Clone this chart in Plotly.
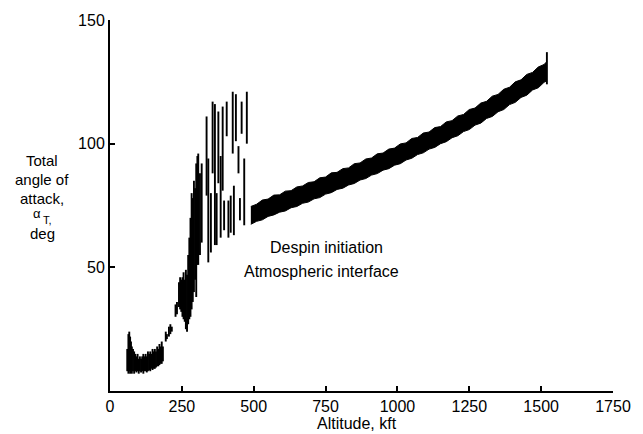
import plotly.graph_objects as go

# ---- data ----
# early oscillating region: vertical extent of the trace at each altitude
early_alt = [60, 64, 67, 70, 73, 76, 80, 84, 88, 92, 96, 100, 104, 108, 112, 116, 120, 124, 128,
             132, 136, 140, 144, 148, 152, 156, 160, 164, 168, 172, 176, 180, 184,
             194, 198, 205, 210, 215, 228, 233,
             240, 244, 248, 252, 256, 260, 264, 268, 272, 276, 280, 284, 288, 292, 296, 300, 304,
             307, 313, 319, 336, 342, 351, 357, 365, 371, 377, 385, 392, 397, 406, 412, 420,
             427, 431, 438, 447, 452, 458, 467, 476, 1520]
early_lo = [8, 7, 8, 7, 8, 7, 8, 7, 8, 7.5, 8, 7, 8, 7.5, 8, 7, 8, 8, 7.5,
            8, 8.5, 8, 9, 8.5, 9, 9, 9.5, 10, 10, 10.5, 11, 11, 12,
            20, 21, 22, 23, 24, 30, 31,
            34, 33, 32, 30, 29, 28, 25, 24, 27, 29, 30, 33, 36, 40, 45, 38, 51,
            51, 55, 60, 79, 52, 56, 88, 59, 59, 84, 62, 81, 65, 103, 62, 64,
            96, 63, 101, 88, 69, 104, 67, 100, 124]
early_hi = [17, 23, 24, 22, 20, 18, 17, 16, 15, 14, 15, 13, 14, 13, 14, 15, 14, 15, 14,
            16, 15, 16, 15, 17, 16, 17, 16, 18, 17, 19, 18, 20, 18,
            24, 23, 26, 27, 26, 35, 36,
            44, 46, 45, 46, 48, 45, 49, 47, 55, 62, 70, 80, 78, 85, 82, 92, 95,
            96, 88, 92, 111, 94, 80, 117, 116, 80, 113, 95, 115, 77, 117, 77, 79,
            121, 83, 120, 99, 78, 117, 94, 121, 137]

# smooth band after despin initiation
band_alt = [490, 510, 530, 550, 570, 590, 610, 630, 650, 670, 690, 710, 730, 750, 770, 790,
            810, 830, 850, 870, 890, 910, 930, 950, 970, 990, 1010, 1030, 1050, 1070, 1090,
            1110, 1130, 1150, 1170, 1190, 1210, 1230, 1250, 1270, 1290, 1310, 1330, 1350,
            1370, 1390, 1410, 1430, 1450, 1470, 1490, 1510, 1520]
band_hi = [74.6, 75.5, 77.2, 77.6, 79.2, 79.3, 80.8, 81.0, 82.5, 82.9, 84.3, 84.6, 86.2, 86.5,
           88.2, 88.4, 89.9, 90.2, 91.9, 92.2, 93.8, 94.2, 95.9, 96.2, 97.8, 98.2, 99.9, 100.3,
           102.1, 102.5, 104.3, 104.7, 106.5, 106.9, 108.8, 109.3, 111.2, 111.8, 113.8, 114.4,
           116.4, 117.1, 119.2, 119.9, 122.0, 122.8, 125.0, 125.8, 128.0, 128.8, 131.0, 132.0,
           133.2]
band_lo = [67.4, 68.6, 69.2, 70.6, 71.2, 72.3, 72.8, 74.1, 74.6, 75.9, 76.4, 77.7, 78.2, 79.6,
           80.2, 81.5, 82.0, 83.3, 83.9, 85.3, 85.9, 87.3, 87.9, 89.3, 89.9, 91.3, 91.9, 93.4,
           94.1, 95.6, 96.3, 97.8, 98.5, 100.0, 100.8, 102.4, 103.2, 104.9, 105.7, 107.5, 108.3,
           110.2, 111.0, 112.9, 113.8, 115.8, 116.7, 118.7, 119.6, 121.7, 122.6, 124.8, 125.4]

x_ticks = [0, 250, 500, 750, 1000, 1250, 1500, 1750]
y_ticks = [50, 100, 150]

FONT = "Liberation Sans, Arial, sans-serif"

# build vertical segments from the early lists
seg_x, seg_y = [], []
for a, lo, hi in zip(early_alt, early_lo, early_hi):
    seg_x += [a, a, None]
    seg_y += [lo, hi, None]

fig = go.Figure()
fig.add_trace(go.Scatter(x=seg_x, y=seg_y, mode="lines",
                         line=dict(color="black", width=1.9), hoverinfo="skip"))
fig.add_trace(go.Scatter(x=band_alt, y=band_lo, mode="lines",
                         line=dict(color="black", width=1), hoverinfo="skip"))
fig.add_trace(go.Scatter(x=band_alt, y=band_hi, mode="lines", fill="tonexty",
                         fillcolor="black", line=dict(color="black", width=1),
                         hoverinfo="skip"))

fig.update_layout(
    width=643, height=434,
    margin=dict(l=110, r=30, t=15, b=43),
    paper_bgcolor="white", plot_bgcolor="white",
    showlegend=False,
    font=dict(family=FONT, size=16, color="black"),
    xaxis=dict(range=[0, 1750], tickvals=x_ticks, ticktext=[str(v) for v in x_ticks],
               ticks="inside", ticklen=5, tickwidth=1.5, tickcolor="black",
               showline=True, linecolor="black", linewidth=2,
               showgrid=False, zeroline=False,
               tickfont=dict(family=FONT, size=16, color="black")),
    yaxis=dict(range=[0, 150], tickvals=y_ticks, ticktext=[str(v) for v in y_ticks],
               ticks="inside", ticklen=5, tickwidth=1.5, tickcolor="black",
               showline=True, linecolor="black", linewidth=2,
               showgrid=False, zeroline=False,
               tickfont=dict(family=FONT, size=16, color="black")),
)

# y-axis title, one line at a time (x, y in paper coordinates)
ylabel_lines = [
    ("Total", -0.135, 0.622, 15),
    ("angle of", -0.135, 0.569, 15),
    ("attack,", -0.135, 0.518, 15),
    ("α", -0.145, 0.478, 13),
    ("T,", -0.125, 0.462, 11),
    ("deg", -0.135, 0.424, 15),
]
for txt, xx, yy, sz in ylabel_lines:
    fig.add_annotation(text=txt, x=xx, y=yy, xref="paper", yref="paper",
                       showarrow=False, xanchor="center", yanchor="middle",
                       font=dict(family=FONT, size=sz, color="black"))

fig.add_annotation(text="Altitude, kft", x=0.492, y=-0.087, xref="paper", yref="paper",
                   showarrow=False, xanchor="center", yanchor="middle",
                   font=dict(family=FONT, size=16, color="black"))
fig.add_annotation(text="Despin initiation", x=0.431, y=0.388, xref="paper", yref="paper",
                   showarrow=False, xanchor="center", yanchor="middle",
                   font=dict(family=FONT, size=16, color="black"))
fig.add_annotation(text="Atmospheric interface", x=0.421, y=0.322, xref="paper", yref="paper",
                   showarrow=False, xanchor="center", yanchor="middle",
                   font=dict(family=FONT, size=16, color="black"))

fig.write_html("out.html")
